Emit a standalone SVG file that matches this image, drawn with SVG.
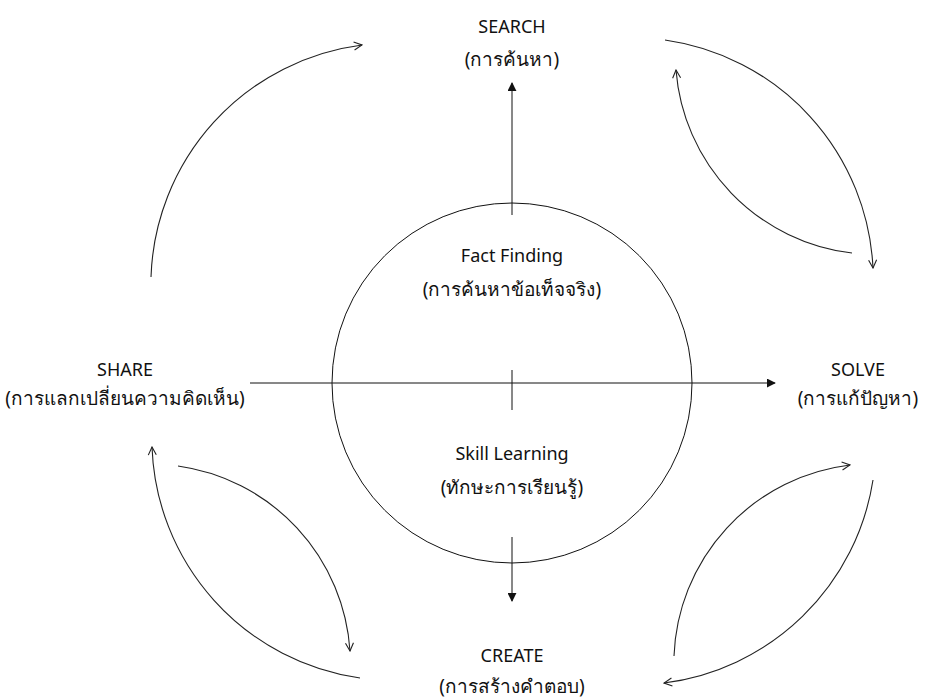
<svg xmlns="http://www.w3.org/2000/svg" width="932" height="698" viewBox="0 0 932 698">
<style>
text{font-family:"Noto Sans","DejaVu Sans",sans-serif;font-size:18px;fill:#111;text-anchor:middle}
.th{font-size:19px}
.ln{stroke:#111;stroke-width:1;fill:none}
.arc{stroke:#222;stroke-width:1.1;fill:none;marker-end:url(#open)}
</style>
<defs>
<marker id="open" viewBox="0 0 10 10" refX="9" refY="5" markerWidth="10" markerHeight="10" markerUnits="userSpaceOnUse" orient="auto">
<path d="M1,1 L9,5 L1,9" fill="none" stroke="#222" stroke-width="1.1"/>
</marker>
<marker id="solid" viewBox="0 0 10 10" refX="9" refY="5" markerWidth="9" markerHeight="9" markerUnits="userSpaceOnUse" orient="auto">
<path d="M0,0 L10,5 L0,10 Z" fill="#111"/>
</marker>
</defs>
<rect width="932" height="698" fill="#fff"/>
<g id="center">
<circle cx="512" cy="383" r="180" class="ln"/>
<text x="512" y="262">Fact Finding</text>
<text class="th" x="512" y="296">(การค้นหาข้อเท็จจริง)</text>
<text x="512" y="460">Skill Learning</text>
<text class="th" x="512" y="494">(ทักษะการเรียนรู้)</text>
</g>
<g id="search">
<text x="512" y="33">SEARCH</text>
<text class="th" x="512" y="66">(การค้นหา)</text>
</g>
<g id="share">
<text x="125" y="376">SHARE</text>
<text class="th" x="125" y="405">(การแลกเปลี่ยนความคิดเห็น)</text>
</g>
<g id="solve">
<text x="858" y="376">SOLVE</text>
<text class="th" x="858" y="405">(การแก้ปัญหา)</text>
</g>
<g id="create">
<text x="512" y="662">CREATE</text>
<text class="th" x="512" y="693">(การสร้างคำตอบ)</text>
</g>
<g id="connectors">
<line x1="512" y1="215" x2="512" y2="83" class="ln" marker-end="url(#solid)"/>
<line x1="250" y1="383" x2="775" y2="383" class="ln" marker-end="url(#solid)"/>
<line x1="512" y1="537" x2="512" y2="601" class="ln" marker-end="url(#solid)"/>
<line x1="512" y1="370" x2="512" y2="410" class="ln"/>
<path class="arc" d="M151,277 A242 242 0 0 1 362,45"/>
<path class="arc" d="M665,40 A242 242 0 0 1 873,268"/>
<path class="arc" d="M852,253 A200 200 0 0 1 676,70"/>
<path class="arc" d="M360,678 A242 242 0 0 1 152,447"/>
<path class="arc" d="M178,466 A200 200 0 0 1 350,651"/>
<path class="arc" d="M873,480 A242 242 0 0 1 664,683"/>
<path class="arc" d="M674,656 A200 200 0 0 1 850,465"/>
</g>
</svg>
